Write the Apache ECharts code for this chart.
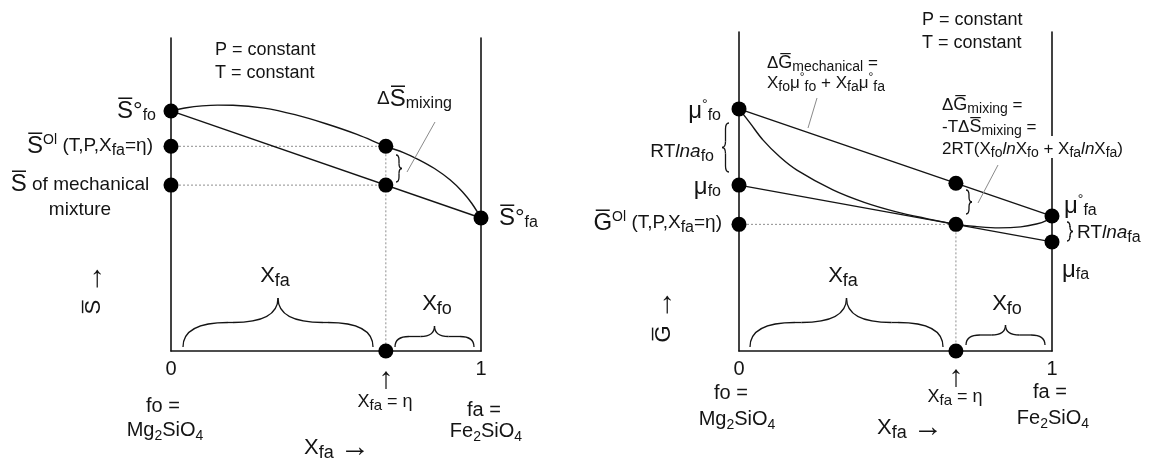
<!DOCTYPE html>
<html>
<head>
<meta charset="utf-8">
<script src="https://cdn.jsdelivr.net/npm/echarts@6/dist/echarts.min.js"></script>
<style>
  html, body { margin: 0; padding: 0; background: #fff; }
  #chart { width: 1158px; height: 462px; }
</style>
</head>
<body>
<div id="chart"></div>
<script>
// Composition of the olivine solution (mole fraction of fayalite)
const ETA = 0.693;
const xTicks = ['0', '1'];

// Entropy diagram
const sPure = [76.7, 42.5];      // S°fo at X=0, S°fa at X=1
const sOl = 65.4;                // molar entropy of olivine at X=eta
const sMech = 53.0;              // entropy of the mechanical mixture at X=eta
const sCurveX = [0, 0.05, 0.1, 0.15, 0.2, 0.3, 0.4, 0.5, 0.6, 0.693, 0.75, 0.8, 0.85, 0.9, 0.94, 0.97, 1];
const sCurveY = [76.7, 77.7, 78.3, 78.55, 78.5, 77.6, 75.5, 72.6, 69.2, 65.4, 63.4, 61.1, 58.3, 54.7, 50.9, 47.2, 42.5];

// Gibbs energy diagram
const gPure = [75.9, 42.3];      // mu°fo, mu°fa
const gMu = [52.0, 34.2];        // mu_fo, mu_fa (tangent at X=eta)
const gOl = 39.7;                // G of olivine at X=eta
const gMech = 52.6;              // G of the mechanical mixture at X=eta
const gCurveX = [0, 0.035, 0.077, 0.131, 0.185, 0.3, 0.4, 0.5, 0.6, 0.693, 0.76, 0.83, 0.9, 0.95, 0.98, 1];
const gCurveY = [75.9, 71.5, 66.1, 60.8, 56.7, 50.5, 46.6, 43.7, 41.5, 39.7, 39.0, 38.6, 38.9, 39.8, 40.8, 42.3];

const INK = '#141414';
const GUIDE = '#8f8f8f';
const FONT = '"Liberation Sans", Arial, Helvetica, sans-serif';

const pairs = (xs, ys) => xs.map((x, i) => [x, ys[i]]);

function xAx(gridIndex) {
  return {
    type: 'value', gridIndex, min: 0, max: 1, interval: 1,
    axisLine: { show: true, onZero: false, lineStyle: { color: INK, width: 1.6 } },
    axisTick: { show: false }, splitLine: { show: false },
    axisLabel: {
      show: true, showMinLabel: true, showMaxLabel: true, margin: 8,
      fontSize: 20, color: INK, fontFamily: FONT,
      formatter: v => xTicks[Math.round(v)]
    }
  };
}
function yAx(gridIndex, position) {
  return {
    type: 'value', gridIndex, position, min: 0, max: 100,
    axisLine: { show: true, onZero: false, lineStyle: { color: INK, width: 1.6 } },
    axisTick: { show: false }, axisLabel: { show: false }, splitLine: { show: false }
  };
}
function curve(panel, data, extra) {
  return Object.assign({
    type: 'line', xAxisIndex: panel, yAxisIndex: panel * 2, data,
    symbol: 'none', silent: true, clip: false, animation: false,
    lineStyle: { color: INK, width: 1.4 }
  }, extra || {});
}
function guide(panel, data) {
  return curve(panel, data, { lineStyle: { color: GUIDE, width: 1, type: [2, 2] }, z: 1 });
}
function dots(panel, data) {
  return {
    type: 'scatter', xAxisIndex: panel, yAxisIndex: panel * 2, data,
    symbol: 'circle', symbolSize: 15, clip: false, silent: true, animation: false,
    itemStyle: { color: '#000', opacity: 1 }, z: 5
  };
}

// rich-text style sets: normal, italic, big symbol, subscript, superscript, arrow
function richSet(n, s, p, b) {
  const base = { fontFamily: FONT, fill: INK };
  const lh = Math.round(n * 1.3);
  return {
    n: Object.assign({ fontSize: n, lineHeight: lh }, base),
    i: Object.assign({ fontSize: n, lineHeight: lh, fontStyle: 'italic' }, base),
    b: Object.assign({ fontSize: b, lineHeight: lh }, base),
    s: Object.assign({ fontSize: s, lineHeight: s, verticalAlign: 'bottom' }, base),
    p: Object.assign({ fontSize: p, lineHeight: p, verticalAlign: 'top' }, base),
    a: Object.assign({ fontSize: Math.round(n * 1.35), lineHeight: lh }, base)
  };
}
const RICH = {
  A: richSet(19, 16, 14, 24),   // point labels
  X: richSet(22, 18, 14, 22),   // brace labels
  E: richSet(17, 14, 12, 18),   // equations
  M: richSet(20, 14, 12, 20),   // end-member formulas
  Q: richSet(18, 15, 12, 18),   // small axis notes
  C: richSet(18, 14, 12, 18)    // constants
};

function T(x, y, text, align, set, rot) {
  return {
    type: 'text', x, y, z: 100, rotation: rot || 0,
    style: {
      text, rich: RICH[set || 'A'], fill: INK, font: '19px ' + FONT,
      align: align || 'left', verticalAlign: 'middle',
      textAlign: align || 'left', textVerticalAlign: 'middle'
    }
  };
}

const STROKE = { fill: null, stroke: INK, lineWidth: 1.3 };
// curly brace from A to B, bulging by `d` to the left of the direction A->B
function brace(ax, ay, bx, by, d, q) {
  const L = Math.hypot(bx - ax, by - ay);
  const ux = (bx - ax) / L, uy = (by - ay) / L;
  const nx = uy, ny = -ux;
  const P = (s, t) => [ax + s * ux + t * nx, ay + s * uy + t * ny];
  const h = L / 2;
  const quad = (a, c, b) => ({
    type: 'bezierCurve', z: 100,
    shape: { x1: a[0], y1: a[1], cpx1: c[0], cpy1: c[1], x2: b[0], y2: b[1] },
    style: STROKE
  });
  const seg = (a, b) => ({
    type: 'line', z: 100, shape: { x1: a[0], y1: a[1], x2: b[0], y2: b[1] }, style: STROKE
  });
  return [
    quad(P(0, 0), P(0, d / 2), P(q, d / 2)),
    seg(P(q, d / 2), P(h - q, d / 2)),
    quad(P(h - q, d / 2), P(h, d / 2), P(h, d)),
    quad(P(h, d), P(h, d / 2), P(h + q, d / 2)),
    seg(P(h + q, d / 2), P(L - q, d / 2)),
    quad(P(L - q, d / 2), P(L, d / 2), P(L, 0))
  ];
}
function leader(x1, y1, x2, y2) {
  return {
    type: 'line', z: 100, shape: { x1, y1, x2, y2 },
    style: { stroke: '#8a8a8a', lineWidth: 1 }
  };
}

const OV = '\u0305'; // combining overline for molar quantities

const graphics = [
  // ---------- entropy panel ----------
  T(215, 50, '{n|P = constant}', 'left', 'C'),
  T(215, 73, '{n|T = constant}', 'left', 'C'),
  T(156, 111, '{b|S' + OV + '°}{s|fo}', 'right', 'A'),
  T(153, 146, '{b|S' + OV + '}{p|Ol}{n| (T,P,X}{s|fa}{n|=η)}', 'right', 'A'),
  T(80, 197, '{b|S' + OV + '}{n| of mechanical}\n{n|mixture}', 'center', 'A'),
  T(377, 99, '{n|Δ}{b|S' + OV + '}{s|mixing}', 'left', 'A'),
  T(499, 218, '{b|S' + OV + '°}{s|fa}', 'left', 'A'),
  T(275, 276, '{n|X}{s|fa}', 'center', 'X'),
  T(437, 304, '{n|X}{s|fo}', 'center', 'X'),
  T(386, 380, '{a|↑}', 'center', 'X'),
  T(385, 402, '{n|X}{s|fa}{n| = η}', 'center', 'Q'),
  T(163, 406, '{n|fo =}', 'center', 'M'),
  T(165, 430, '{n|Mg}{s|2}{n|SiO}{s|4}', 'center', 'M'),
  T(484, 410, '{n|fa =}', 'center', 'M'),
  T(486, 431, '{n|Fe}{s|2}{n|SiO}{s|4}', 'center', 'M'),
  T(337, 448, '{n|X}{s|fa}{n| }{a|→}', 'center', 'X'),
  T(94, 289, '{b|S' + OV + '}{n| }{a|→}', 'center', 'X', Math.PI / 2),
  ...brace(183, 347, 373, 347, 49, 45),
  ...brace(395, 347, 474, 347, 21, 14),
  ...brace(396, 155, 396, 182, 6, 5),
  leader(407, 172, 435, 122),

  // ---------- Gibbs energy panel ----------
  T(922, 20, '{n|P = constant}', 'left', 'C'),
  T(922, 43, '{n|T = constant}', 'left', 'C'),
  T(767, 63, '{n|Δ}{b|G' + OV + '}{s|mechanical}{n| =}', 'left', 'E'),
  T(767, 83, '{n|X}{s|fo}{n|μ}{p|°}{s|fo}{n| + X}{s|fa}{n|μ}{p|°}{s|fa}', 'left', 'E'),
  T(942, 105, '{n|Δ}{b|G' + OV + '}{s|mixing}{n| =}', 'left', 'E'),
  T(942, 127, '{n|-TΔ}{b|S' + OV + '}{s|mixing}{n| =}', 'left', 'E'),
  { type: 'rect', z: 99, shape: { x: 1046, y: 136, width: 12, height: 22 }, style: { fill: '#fff' } },
  T(942, 149, '{n|2RT(X}{s|fo}{i|ln}{n|X}{s|fo}{n| + X}{s|fa}{i|ln}{n|X}{s|fa}{n|)}', 'left', 'E'),
  T(721, 111, '{b|μ}{p|°}{s|fo}', 'right', 'A'),
  T(714, 152, '{n|RT}{i|lna}{s|fo}', 'right', 'A'),
  T(721, 187, '{b|μ}{s|fo}', 'right', 'A'),
  T(722, 223, '{b|G' + OV + '}{p|Ol}{n| (T,P,X}{s|fa}{n|=η)}', 'right', 'A'),
  T(1064, 206, '{b|μ}{p|°}{s|fa}', 'left', 'A'),
  T(1077, 233, '{n|RT}{i|lna}{s|fa}', 'left', 'A'),
  T(1062, 270, '{b|μ}{s|fa}', 'left', 'A'),
  T(843, 276, '{n|X}{s|fa}', 'center', 'X'),
  T(1007, 304, '{n|X}{s|fo}', 'center', 'X'),
  T(956, 378, '{a|↑}', 'center', 'X'),
  T(955, 397, '{n|X}{s|fa}{n| = η}', 'center', 'Q'),
  T(731, 393, '{n|fo =}', 'center', 'M'),
  T(737, 419, '{n|Mg}{s|2}{n|SiO}{s|4}', 'center', 'M'),
  T(1050, 392, '{n|fa =}', 'center', 'M'),
  T(1053, 418, '{n|Fe}{s|2}{n|SiO}{s|4}', 'center', 'M'),
  T(910, 428, '{n|X}{s|fa}{n| }{a|→}', 'center', 'X'),
  T(664, 316, '{b|G' + OV + '}{n| }{a|→}', 'center', 'X', Math.PI / 2),
  ...brace(750, 347, 943, 347, 49, 45),
  ...brace(966, 345, 1045, 345, 20, 14),
  ...brace(966, 190, 966, 214, 6, 5),
  ...brace(729, 172, 729, 123, 7, 6),
  ...brace(1067, 222, 1067, 241, 6, 5),
  leader(808, 128, 817, 98),
  leader(978, 203, 998, 165)
];

const option = {
  backgroundColor: '#fff',
  animation: false,
  grid: [
    { left: 171, top: 38, width: 310, height: 313 },
    { left: 739, top: 32, width: 313, height: 319 }
  ],
  xAxis: [xAx(0), xAx(1)],
  yAxis: [yAx(0, 'left'), yAx(0, 'right'), yAx(1, 'left'), yAx(1, 'right')],
  series: [
    // entropy panel
    guide(0, [[0, sOl], [ETA, sOl]]),
    guide(0, [[0, sMech], [ETA, sMech]]),
    guide(0, [[ETA, sOl], [ETA, 0]]),
    curve(0, [[0, sPure[0]], [1, sPure[1]]]),
    curve(0, pairs(sCurveX, sCurveY), { smooth: 0.35 }),
    dots(0, [[0, sPure[0]], [0, sOl], [0, sMech], [ETA, sOl], [ETA, sMech], [1, sPure[1]], [ETA, 0]]),
    // Gibbs energy panel
    guide(1, [[0, gOl], [ETA, gOl]]),
    guide(1, [[ETA, gOl], [ETA, 0]]),
    curve(1, [[0, gPure[0]], [1, gPure[1]]]),
    curve(1, [[0, gMu[0]], [1, gMu[1]]]),
    curve(1, pairs(gCurveX, gCurveY), { smooth: 0.35 }),
    dots(1, [[0, gPure[0]], [0, gMu[0]], [0, gOl], [ETA, gMech], [ETA, gOl], [1, gPure[1]], [1, gMu[1]], [ETA, 0]])
  ],
  graphic: { elements: graphics }
};

const chart = echarts.init(document.getElementById('chart'), null, { renderer: 'canvas' });
chart.setOption(option);
</script>
</body>
</html>
